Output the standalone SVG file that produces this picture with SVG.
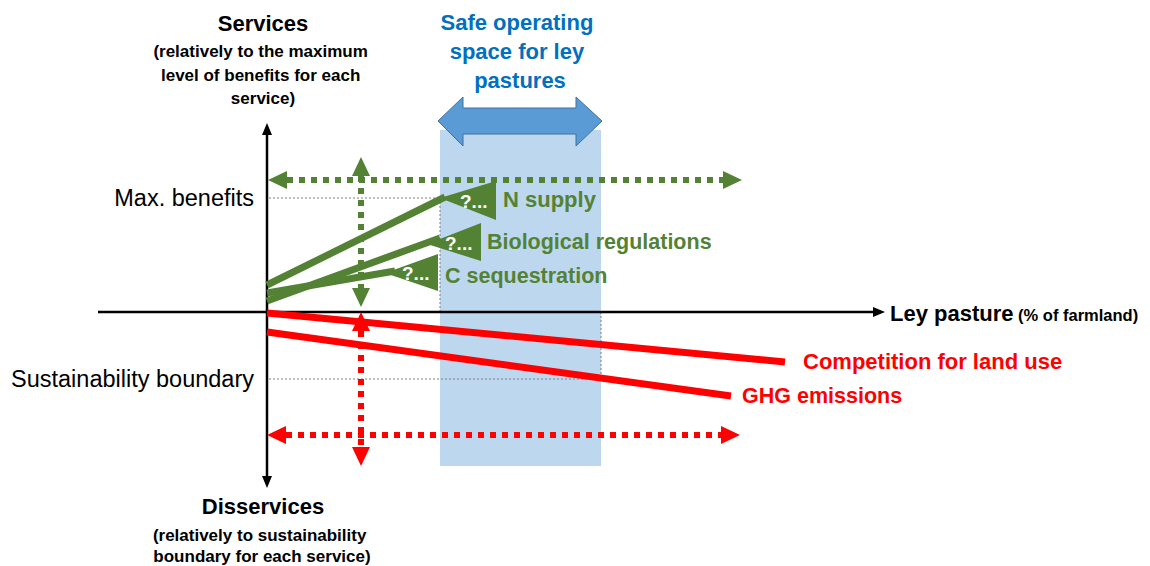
<svg xmlns="http://www.w3.org/2000/svg" width="1150" height="566" viewBox="0 0 1150 566">
  <style>
    .t { font-family: "Liberation Sans", Arial, sans-serif; }
    .b { font-weight: bold; }
    .blk { fill: #000; }
    .grn { fill: #548235; }
    .red { fill: #ff0000; }
    .blu { fill: #0070c0; }
    .q { fill: #fff; font-weight: bold; font-size: 19px; }
    .guide { stroke: #7f7f7f; stroke-width: 1; stroke-dasharray: 2 2; fill: none; }
    .axis { stroke: #000; stroke-width: 2.5; fill: none; }
    .gline { stroke: #548235; stroke-width: 7; fill: none; }
    .rline { stroke: #ff0000; stroke-width: 7; fill: none; }
    .gdot { stroke: #548235; stroke-width: 6; stroke-dasharray: 6 6; fill: none; }
    .rdot { stroke: #ff0000; stroke-width: 6; stroke-dasharray: 6 6; fill: none; }
  </style>
  <defs>
    <marker id="ax" markerUnits="userSpaceOnUse" markerWidth="12" markerHeight="12" refX="0" refY="5" orient="auto-start-reverse" overflow="visible">
      <path d="M0,0 L12,5 L0,10 z" fill="#000"/>
    </marker>
    <marker id="ga" markerUnits="userSpaceOnUse" markerWidth="19" markerHeight="18" refX="0" refY="9" orient="auto-start-reverse" overflow="visible">
      <path d="M0,0 L19,9 L0,18 z" fill="#548235"/>
    </marker>
    <marker id="ra" markerUnits="userSpaceOnUse" markerWidth="19" markerHeight="18" refX="0" refY="9" orient="auto-start-reverse" overflow="visible">
      <path d="M0,0 L19,9 L0,18 z" fill="#ff0000"/>
    </marker>
  </defs>

  <g id="safe-space">
    <rect x="440" y="130" width="161" height="336" fill="#bdd7ee"/>
    <polygon points="438,121 463,97 463,108 576,108 576,97 602,121 576,146 576,134 463,134 463,146" fill="#5b9bd5" stroke="#41719c" stroke-width="1"/>
    <text class="t b blu" font-size="22" text-anchor="middle">
      <tspan x="520" y="30">Safe operating</tspan>
      <tspan x="520" y="59">space for ley</tspan>
      <tspan x="520" y="88">pastures</tspan>
    </text>
  </g>

  <g id="guides">
    <line class="guide" x1="269" y1="198" x2="440" y2="198"/>
    <line class="guide" x1="440" y1="198" x2="440" y2="312"/>
    <line class="guide" x1="269" y1="379" x2="601" y2="379"/>
    <line class="guide" x1="601" y1="312" x2="601" y2="379"/>
  </g>

  <g id="axes">
    <line class="axis" x1="267" y1="135" x2="267" y2="476" marker-start="url(#ax)" marker-end="url(#ax)"/>
    <line class="axis" x1="98" y1="312" x2="873" y2="312" marker-end="url(#ax)"/>
  </g>

  <g id="connectors">
    <line class="rline" x1="267" y1="313" x2="785" y2="362"/>
    <line class="rline" x1="267" y1="332" x2="731" y2="396"/>
    <line class="gline" x1="267" y1="285" x2="445" y2="197"/>
    <line class="gline" x1="267" y1="301" x2="440" y2="238"/>
    <line class="gline" x1="267" y1="293" x2="395" y2="271"/>
    <line class="gdot" x1="287" y1="180" x2="723" y2="180" marker-start="url(#ga)" marker-end="url(#ga)"/>
    <line class="gdot" x1="361" y1="176" x2="361" y2="288" marker-start="url(#ga)" marker-end="url(#ga)"/>
    <line class="rdot" x1="286" y1="435" x2="721" y2="435" marker-start="url(#ra)" marker-end="url(#ra)"/>
    <line class="rdot" x1="361" y1="331" x2="361" y2="447" marker-start="url(#ra)" marker-end="url(#ra)"/>
  </g>

  <g id="n-supply">
    <polygon points="440,198 496,181 496,220" fill="#548235"/>
    <text class="t q" x="460" y="208">?...</text>
    <text class="t b grn" font-size="22" x="503" y="207">N supply</text>
  </g>
  <g id="bio-regulations">
    <polygon points="427,244 481,223 481,261" fill="#548235"/>
    <text class="t q" x="445" y="250">?...</text>
    <text class="t b grn" font-size="21.5" x="487" y="249">Biological regulations</text>
  </g>
  <g id="c-sequestration">
    <polygon points="385,273 438,254 438,291" fill="#548235"/>
    <text class="t q" x="402" y="280">?...</text>
    <text class="t b grn" font-size="21.5" x="445" y="283">C sequestration</text>
  </g>

  <g id="competition">
    <text class="t b red" font-size="22" x="803" y="369">Competition for land use</text>
  </g>
  <g id="ghg">
    <text class="t b red" font-size="21.5" x="742" y="403">GHG emissions</text>
  </g>

  <g id="x-label">
    <text class="t b blk" x="890" y="321"><tspan font-size="22">Ley pasture</tspan><tspan font-size="16.5"> (% of farmland)</tspan></text>
  </g>

  <g id="services-label">
    <text class="t b blk" font-size="22" x="263" y="31" text-anchor="middle">Services</text>
    <text class="t b blk" font-size="17" text-anchor="middle">
      <tspan x="263" y="57">(relatively to the maximum</tspan>
      <tspan x="263" y="81">level of benefits for each</tspan>
      <tspan x="263" y="104">service)</tspan>
    </text>
  </g>

  <g id="disservices-label">
    <text class="t b blk" font-size="22" x="263" y="514" text-anchor="middle">Disservices</text>
    <text class="t b blk" font-size="17" text-anchor="middle">
      <tspan x="262" y="541">(relatively to sustainability</tspan>
      <tspan x="262" y="562">boundary for each service)</tspan>
    </text>
  </g>

  <g id="y-ticks">
    <text class="t blk" font-size="23.5" x="254" y="206" text-anchor="end">Max. benefits</text>
    <text class="t blk" font-size="23.5" x="254" y="387" text-anchor="end">Sustainability boundary</text>
  </g>
</svg>
